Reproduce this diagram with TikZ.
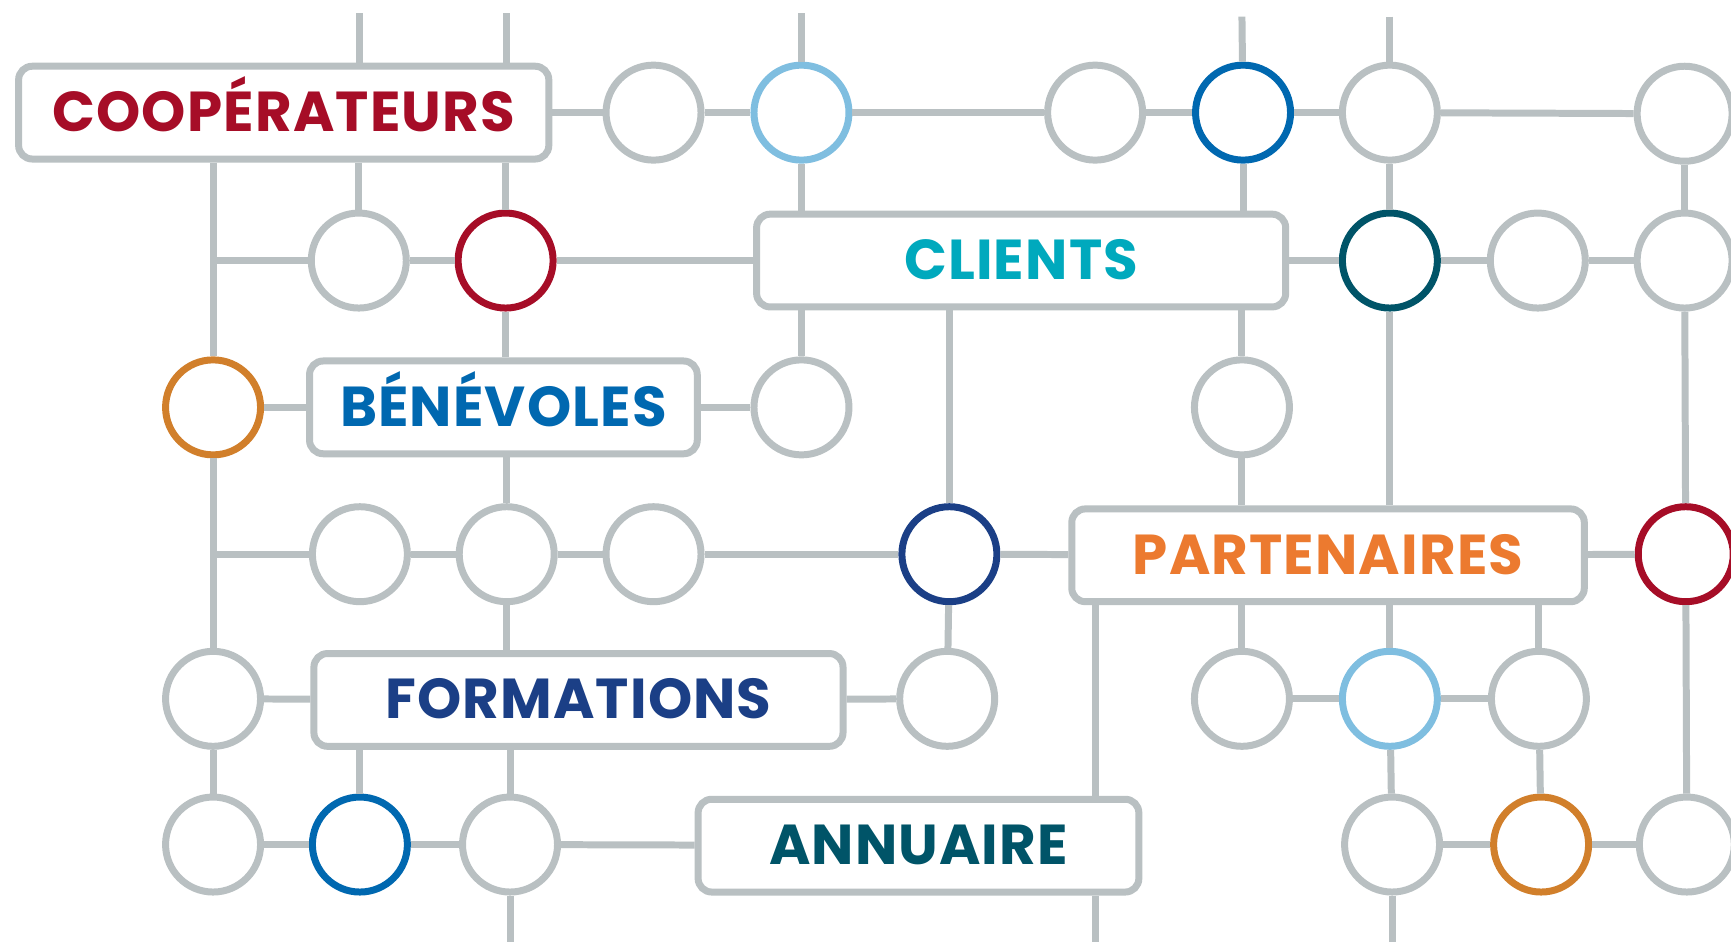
\documentclass[tikz,border=0pt]{standalone}
\usepackage{fontspec}
\newfontfamily\tagfont[LetterSpace=2]{Poppins}
\usepackage{xcolor}
\definecolor{netgray}{HTML}{B9C0C2}
\definecolor{coopred}{HTML}{A60D27}
\definecolor{clientteal}{HTML}{00A9BD}
\definecolor{benevblue}{HTML}{0068B0}
\definecolor{partorange}{HTML}{EC7A2F}
\definecolor{formnavy}{HTML}{1B3F86}
\definecolor{annuteal}{HTML}{005468}
\definecolor{ringorange}{HTML}{D17F2B}
\definecolor{ringlight}{HTML}{7FBEE0}
\tikzset{
  ring/.style={circle,draw=netgray,line width=1.8pt,fill=white,minimum size=0.86cm,inner sep=0pt},
  tagbox/.style={rectangle,rounded corners=3.5pt,draw=netgray,line width=1.8pt,fill=white,
    minimum height=0.84cm,inner sep=0pt,text height=0.34cm,text depth=0pt,
    font=\tagfont\bfseries\fontsize{14.5}{16}\selectfont},
  wire/.style={netgray,line width=1.8pt},
}

\begin{document}
\begin{tikzpicture}[x=0.01cm,y=-0.01cm]
\useasboundingbox (0,0) rectangle (1568,853);
% labelled boxes
\node (coop) [tagbox,minimum width=4.80cm,text=coopred] at (257,102) {COOPÉRATEURS};
\node (clients) [tagbox,minimum width=4.79cm,text=clientteal] at (925,236) {CLIENTS};
\node (benev) [tagbox,minimum width=3.51cm,text=benevblue] at (456,369) {BÉNÉVOLES};
\node (partn) [tagbox,minimum width=4.64cm,text=partorange] at (1203,503) {PARTENAIRES};
\node (form) [tagbox,minimum width=4.79cm,text=formnavy] at (524,634) {FORMATIONS};
\node (annu) [tagbox,minimum width=3.99cm,text=annuteal] at (832,766) {ANNUAIRE};
%
\node (t1) [ring] at (592,102) {};
\node (t2) [ring,draw=ringlight] at (726,102) {};
\node (t3) [ring] at (992,102) {};
\node (t4) [ring,draw=benevblue] at (1126,102) {};
\node (t5) [ring] at (1259,102) {};
\node (t6) [ring] at (1526,103) {};
\node (s1) [ring] at (325,236) {};
\node (s2) [ring,draw=coopred] at (458,236) {};
\node (s3) [ring,draw=annuteal] at (1259,236) {};
\node (s4) [ring] at (1393,236) {};
\node (s5) [ring] at (1526,236) {};
\node (m1) [ring,draw=ringorange] at (193,369) {};
\node (m2) [ring] at (726,369) {};
\node (m3) [ring] at (1125,369) {};
\node (f1) [ring] at (326,502) {};
\node (f2) [ring] at (459,502) {};
\node (f3) [ring] at (592,502) {};
\node (f4) [ring,draw=formnavy] at (860,502) {};
\node (f5) [ring,draw=coopred] at (1527,502) {};
\node (g1) [ring] at (193,633) {};
\node (g2) [ring] at (858,633) {};
\node (g3) [ring] at (1125,633) {};
\node (g4) [ring,draw=ringlight] at (1259,633) {};
\node (g5) [ring] at (1394,633) {};
\node (h1) [ring] at (193,765) {};
\node (h2) [ring,draw=benevblue] at (326,765) {};
\node (h3) [ring] at (462,765) {};
\node (h4) [ring] at (1261,765) {};
\node (h5) [ring,draw=ringorange] at (1396,765) {};
\node (h6) [ring] at (1528,765) {};
%
\coordinate (top1) at (326,12);
\coordinate (top2) at (459,12);
\coordinate (top3) at (726,12);
\coordinate (top4) at (1125,15);
\coordinate (top5) at (1259,15);
\coordinate (j1) at (193,236);
\coordinate (j2) at (193,502);
\coordinate (bot1) at (462,853);
\coordinate (bot2) at (992,853);
\coordinate (bot3) at (1261,853);
%
\path[wire] (top1) edge (coop.north -| top1) (top2) edge (coop.north -| top2);
\path[wire] (top3) edge (t2) (top4) edge (t4) (top5) edge (t5);
\path[wire] (coop) edge (t1) (t1) edge (t2) (t2) edge (t3) (t3) edge (t4) (t4) edge (t5) (t5) edge (t6);
\path[wire] (t2) edge (clients.north -| t2) (t4) edge (clients.north -| t4);
\path[wire] (t5) edge (s3) (t6) edge (s5);
\path[wire] (coop.south -| m1) edge (m1) (coop.south -| s1) edge (s1) (coop.south -| s2) edge (s2);
\path[wire] (j1) edge (s1) (s1) edge (s2) (s2) edge (clients) (clients) edge (s3) (s3) edge (s4) (s4) edge (s5);
\path[wire] (clients.south -| m2) edge (m2) (clients.south -| f4) edge (f4) (clients.south -| m3) edge (m3);
\path[wire] (s2) edge (benev.north -| s2) (m1) edge (benev) (benev) edge (m2);
\path[wire] (m3) edge (partn.north -| m3) (s3) edge (partn.north -| s3) (s5) edge (f5);
\path[wire] (benev.south -| f2) edge (f2) (m1) edge (g1) (j2) edge (f1);
\path[wire] (f1) edge (f2) (f2) edge (f3) (f3) edge (f4) (f4) edge (partn) (partn) edge (f5);
\path[wire] (f2) edge (form.north -| f2) (f4) edge (g2);
\path[wire] (g1) edge (form) (form) edge (g2) (g1) edge (h1);
\path[wire] (partn.south -| bot2) edge (annu.north -| bot2) (annu.south -| bot2) edge (bot2);
\path[wire] (partn.south -| g3) edge (g3) (partn.south -| g4) edge (g4) (partn.south -| g5) edge (g5);
\path[wire] (g3) edge (g4) (g4) edge (g5) (g4) edge (h4) (g5) edge (h5) (f5) edge (h6);
\path[wire] (form.south -| h2) edge (h2) (form.south -| h3) edge (h3);
\path[wire] (h1) edge (h2) (h2) edge (h3) (h3) edge (annu) (h3) edge (bot1);
\path[wire] (h4) edge (h5) (h5) edge (h6) (h4) edge (bot3);
\end{tikzpicture}
\end{document}
